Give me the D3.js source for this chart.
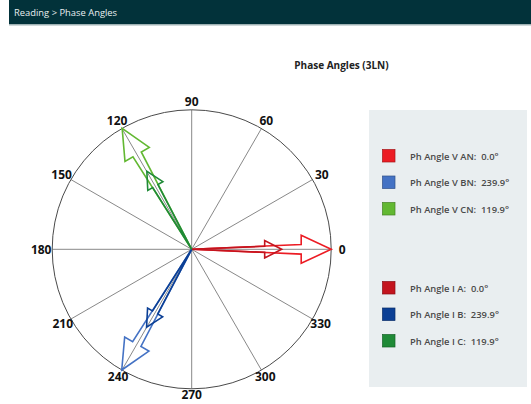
<!DOCTYPE html>
<html>
<head>
<meta charset="utf-8">
<script src="https://cdn.jsdelivr.net/npm/d3@7"></script>
<style>
  html, body { margin: 0; padding: 0; background: #fff; }
  svg { display: block; }
</style>
</head>
<body>
<svg id="chart" width="531" height="404"></svg>
<script>
// Phasor data: voltage (V) and current (I) phase angles in degrees
const voltageLabels = ["Ph Angle V AN:", "Ph Angle V BN:", "Ph Angle V CN:"];
const voltageAngles = [0.0, 239.9, 119.9];
const voltageColors = ["#ec1c24", "#4472c4", "#62b832"];
const voltageLength = [1.0, 1.0, 1.0];      // normalised phasor length

const currentLabels = ["Ph Angle I A:", "Ph Angle I B:", "Ph Angle I C:"];
const currentAngles = [0.0, 239.9, 119.9];
const currentColors = ["#c3141e", "#0b3f95", "#1f8a37"];
const currentLength = [0.645, 0.645, 0.645];

const gridAngles = [0, 30, 60, 90, 120, 150, 180, 210, 240, 270, 300, 330];

const svg = d3.select("#chart");
const font = "'Open Sans', 'Liberation Sans', sans-serif";

// Page header
svg.append("rect").attr("x", 9).attr("y", 0).attr("width", 522).attr("height", 24).attr("fill", "#02323a");
svg.append("rect").attr("x", 9).attr("y", 24).attr("width", 522).attr("height", 1.5).attr("fill", "#9fb2b4");
svg.append("text").attr("x", 14).attr("y", 16)
  .attr("fill", "#e8eef0").attr("font-family", font)
  .attr("font-size", 9.4).text("Reading > Phase Angles");

// Title
svg.append("text").attr("x", 341.5).attr("y", 68.5)
  .attr("text-anchor", "middle").attr("font-family", font)
  .attr("font-weight", "bold").attr("font-size", 10).attr("fill", "#222")
  .text("Phase Angles (3LN)");

// Polar plot
const cx = 191.7, cy = 249.3, R = 139.5;
const rScale = d3.scaleLinear().domain([0, 1]).range([0, R]);
const toRad = d => d * Math.PI / 180;
const px = (a, r) => cx + r * Math.cos(toRad(a));
const py = (a, r) => cy - r * Math.sin(toRad(a));

const plot = svg.append("g");

plot.selectAll("line.grid").data(gridAngles).join("line")
  .attr("class", "grid")
  .attr("x1", cx).attr("y1", cy)
  .attr("x2", d => px(d, rScale(1))).attr("y2", d => py(d, rScale(1)))
  .attr("stroke", "#7a7a7a").attr("stroke-width", 0.9);

plot.append("circle").attr("cx", cx).attr("cy", cy).attr("r", rScale(1))
  .attr("fill", "none").attr("stroke", "#4a4a4a").attr("stroke-width", 1);

// Angle labels sit just outside the rim; side labels need a little more room
const labelR = a => rScale(1) + 8.5 + 2.5 * Math.abs(Math.cos(toRad(a))) - 2.5 * Math.max(0, -Math.sin(toRad(a)));
plot.selectAll("text.ang").data(gridAngles).join("text")
  .attr("class", "ang")
  .attr("x", d => px(d, labelR(d)))
  .attr("y", d => py(d, labelR(d)))
  .attr("text-anchor", "middle").attr("dominant-baseline", "central")
  .attr("font-family", font)
  .attr("font-weight", "bold").attr("font-size", 12).attr("fill", "#111")
  .text(d => d);

// Block-arrow outline pointing along +x, tapering to a point at the origin
function arrowPath(len, head, headHalf, shaftHalf) {
  const b = len - head;
  return d3.line()([[0, 0], [b, -shaftHalf], [b, -headHalf], [len, 0], [b, headHalf], [b, shaftHalf], [0, 0]]) + "Z";
}

function drawPhasors(angles, lengths, colors, head, headHalf, shaftHalf) {
  plot.append("g").selectAll("path").data(angles).join("path")
    .attr("d", (d, i) => arrowPath(rScale(lengths[i]), head, headHalf, shaftHalf))
    .attr("transform", d => `translate(${cx},${cy}) rotate(${-d})`)
    .attr("fill", "none")
    .attr("stroke", (d, i) => colors[i])
    .attr("stroke-width", 1.6)
    .attr("stroke-linejoin", "miter");
}

drawPhasors(voltageAngles, voltageLength, voltageColors, 30, 14, 4.8);
drawPhasors(currentAngles, currentLength, currentColors, 17, 8.7, 3);

// Legend
const lg = svg.append("g");
lg.append("rect").attr("x", 369).attr("y", 110).attr("width", 158).attr("height", 277).attr("fill", "#e9eef0");

const legendRows = [
  ...voltageLabels.map((l, i) => ({ label: l, value: voltageAngles[i], color: voltageColors[i], y: 156 + i * 26.5 })),
  ...currentLabels.map((l, i) => ({ label: l, value: currentAngles[i], color: currentColors[i], y: 288 + i * 26.5 }))
];

const rows = lg.selectAll("g.row").data(legendRows).join("g").attr("class", "row");
rows.append("rect")
  .attr("x", 382.5).attr("y", d => d.y - 6.5).attr("width", 12.5).attr("height", 12.5)
  .attr("fill", d => d.color).attr("stroke", d => d3.color(d.color).darker(1)).attr("stroke-width", 0.7);
rows.append("text")
  .attr("x", 410).attr("y", d => d.y).attr("dominant-baseline", "central")
  .attr("font-family", font)
  .attr("font-size", 9.4).attr("font-weight", 600).attr("fill", "#4a4a4a")
  .attr("xml:space", "preserve")
  .text(d => `${d.label}  ${d.value.toFixed(1)}°`);
</script>
</body>
</html>
